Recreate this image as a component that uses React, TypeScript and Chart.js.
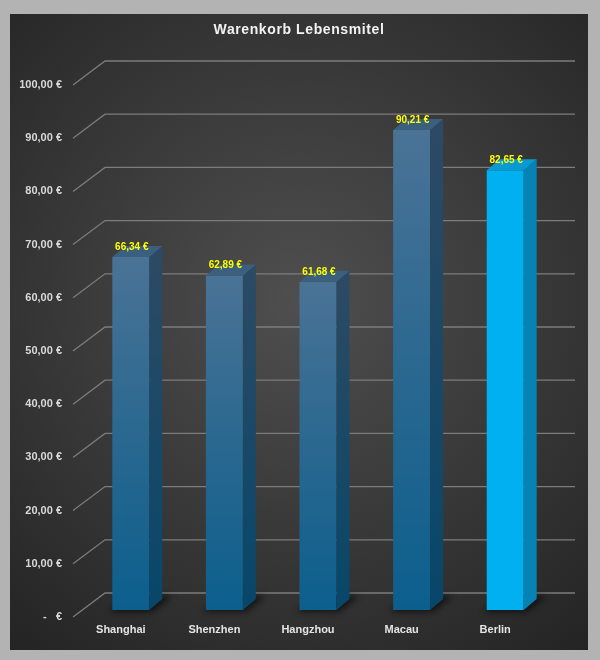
import React, { useEffect, useRef } from "react";
import Chart from "chart.js/auto";

const categories = ["Shanghai", "Shenzhen", "Hangzhou", "Macau", "Berlin"];
const prices = [66.34, 62.89, 61.68, 90.21, 82.65];
const highlighted = [false, false, false, false, true];
const yTickValues = [0, 10, 20, 30, 40, 50, 60, 70, 80, 90, 100];
const chartTitle = "Warenkorb Lebensmitel";

const fmtEuro = (v: number) => (v === 0 ? "-   €" : v.toFixed(2).replace(".", ",") + " €");

const DEPTH_X = 13;
const DEPTH_Y = 11;

const backgroundPlugin = {
  id: "panelBg",
  beforeDraw(chart: any) {
    const ctx = chart.ctx;
    const W = chart.width;
    const H = chart.height;
    ctx.save();
    ctx.fillStyle = "#b3b3b3";
    ctx.fillRect(0, 0, W, H);
    const g = ctx.createRadialGradient(300, 300, 0, 300, 300, 460);
    g.addColorStop(0, "#4f4f4f");
    g.addColorStop(1, "#232323");
    ctx.fillStyle = g;
    ctx.fillRect(10, 14, 578, 636);
    // title
    ctx.fillStyle = "#f2f2f2";
    ctx.font = "bold 14px 'Liberation Sans', Arial, sans-serif";
    try {
      (ctx as any).letterSpacing = "0.6px";
    } catch (e) {}
    ctx.textAlign = "center";
    ctx.textBaseline = "middle";
    ctx.fillText(chartTitle, 299, 30);
    try {
      (ctx as any).letterSpacing = "0px";
    } catch (e) {}
    ctx.restore();
  },
};

const gridPlugin = {
  id: "grid3d",
  beforeDatasetsDraw(chart: any) {
    const ctx = chart.ctx;
    const y = chart.scales.y;
    const area = chart.chartArea;
    ctx.save();
    ctx.strokeStyle = "#7c7c7c";
    ctx.lineWidth = 1.3;
    yTickValues.forEach((v) => {
      const yf = y.getPixelForValue(v);
      ctx.beginPath();
      ctx.moveTo(area.left - 11, yf + 7);
      ctx.lineTo(area.left + 21, yf - 17);
      ctx.lineTo(area.right + 23, yf - 17);
      ctx.stroke();
    });
    // floor shadows
    const meta = chart.getDatasetMeta(0);
    meta.data.forEach((el: any) => {
      const x0 = el.x - el.width / 2;
      const x1 = el.x + el.width / 2;
      const b = el.base;
      ctx.save();
      ctx.filter = "blur(3px)";
      ctx.fillStyle = "rgba(0,0,0,0.6)";
      ctx.beginPath();
      ctx.moveTo(x0 - 3, b + 2);
      ctx.lineTo(x1 + 3, b + 2);
      ctx.lineTo(x1 + DEPTH_X + 10, b - DEPTH_Y - 3);
      ctx.lineTo(x0 + DEPTH_X, b - DEPTH_Y - 3);
      ctx.closePath();
      ctx.fill();
      ctx.restore();
    });
    ctx.restore();
  },
};

const bar3dPlugin = {
  id: "bar3d",
  afterDatasetsDraw(chart: any) {
    const ctx = chart.ctx;
    const meta = chart.getDatasetMeta(0);
    ctx.save();
    meta.data.forEach((el: any, i: number) => {
      const x0 = el.x - el.width / 2;
      const x1 = el.x + el.width / 2;
      const top = el.y;
      const b = el.base;
      const hi = highlighted[i];
      let side: any;
      if (hi) {
        side = "#0682b4";
      } else {
        side = ctx.createLinearGradient(0, top, 0, b);
        side.addColorStop(0, "#2c4a64");
        side.addColorStop(1, "#07476a");
      }
      ctx.fillStyle = side;
      ctx.beginPath();
      ctx.moveTo(x1, top);
      ctx.lineTo(x1 + DEPTH_X, top - DEPTH_Y);
      ctx.lineTo(x1 + DEPTH_X, b - DEPTH_Y);
      ctx.lineTo(x1, b);
      ctx.closePath();
      ctx.fill();
      ctx.fillStyle = hi ? "#0a9ad2" : "#3a5f7f";
      ctx.beginPath();
      ctx.moveTo(x0, top);
      ctx.lineTo(x1, top);
      ctx.lineTo(x1 + DEPTH_X, top - DEPTH_Y);
      ctx.lineTo(x0 + DEPTH_X, top - DEPTH_Y);
      ctx.closePath();
      ctx.fill();
      ctx.fillStyle = "#ffff00";
      ctx.font = "bold 10px 'Liberation Sans', Arial, sans-serif";
      ctx.textAlign = "center";
      ctx.textBaseline = "middle";
      ctx.fillText(fmtEuro(prices[i]), el.x + 1, top - 10);
    });
    ctx.restore();
  },
};

export default function App() {
  const ref = useRef<HTMLCanvasElement | null>(null);

  useEffect(() => {
    if (!ref.current) return;
    const chart = new Chart(ref.current, {
      type: "bar",
      data: {
        labels: categories,
        datasets: [
          {
            data: prices,
            barPercentage: 0.395,
            categoryPercentage: 1,
            borderWidth: 0,
            backgroundColor: (c: any) => {
              const ch = c.chart;
              if (highlighted[c.dataIndex]) return "#00b0f0";
              if (!ch.chartArea || c.raw === undefined) return "#1a6490";
              const ys = ch.scales.y;
              const t = ys.getPixelForValue(c.raw);
              const b = ys.getPixelForValue(0);
              const g = ch.ctx.createLinearGradient(0, t, 0, b);
              g.addColorStop(0, "#4a7396");
              g.addColorStop(0.5, "#2a6890");
              g.addColorStop(1, "#0c5f8d");
              return g;
            },
          },
        ],
      },
      options: {
        responsive: false,
        animation: false,
        events: [],
        layout: { padding: { top: 78, right: 48, bottom: 20, left: 0 } },
        plugins: {
          legend: { display: false },
          tooltip: { enabled: false },
          title: { display: false },
        },
        scales: {
          x: {
            grid: { display: false, drawTicks: false },
            border: { display: false },
            afterFit: (s: any) => {
              s.height = 30;
            },
            ticks: {
              color: "#e4e4e4",
              font: { family: "'Liberation Sans', Arial, sans-serif", size: 11, weight: "bold" },
              padding: 13,
              labelOffset: -10,
              maxRotation: 0,
              autoSkip: false,
            },
          },
          y: {
            min: 0,
            max: 100,
            grid: { display: false, drawTicks: false },
            border: { display: false },
            afterFit: (s: any) => {
              s.width = 84;
            },
            afterBuildTicks: (s: any) => {
              s.ticks = yTickValues.map((v) => ({ value: v }));
            },
            ticks: {
              color: "#d9d9d9",
              font: { family: "'Liberation Sans', Arial, sans-serif", size: 11, weight: "bold" },
              padding: 22,
              labelOffset: 7,
              autoSkip: false,
              callback: (v: any) => fmtEuro(Number(v)),
            },
          },
        },
      },
      plugins: [backgroundPlugin, gridPlugin, bar3dPlugin],
    });
    return () => chart.destroy();
  }, []);

  return (
    <div style={{ position: "absolute", left: 0, top: 0, width: 600, height: 660 }}>
      <canvas ref={ref} width={600} height={660} style={{ display: "block" }} />
    </div>
  );
}
